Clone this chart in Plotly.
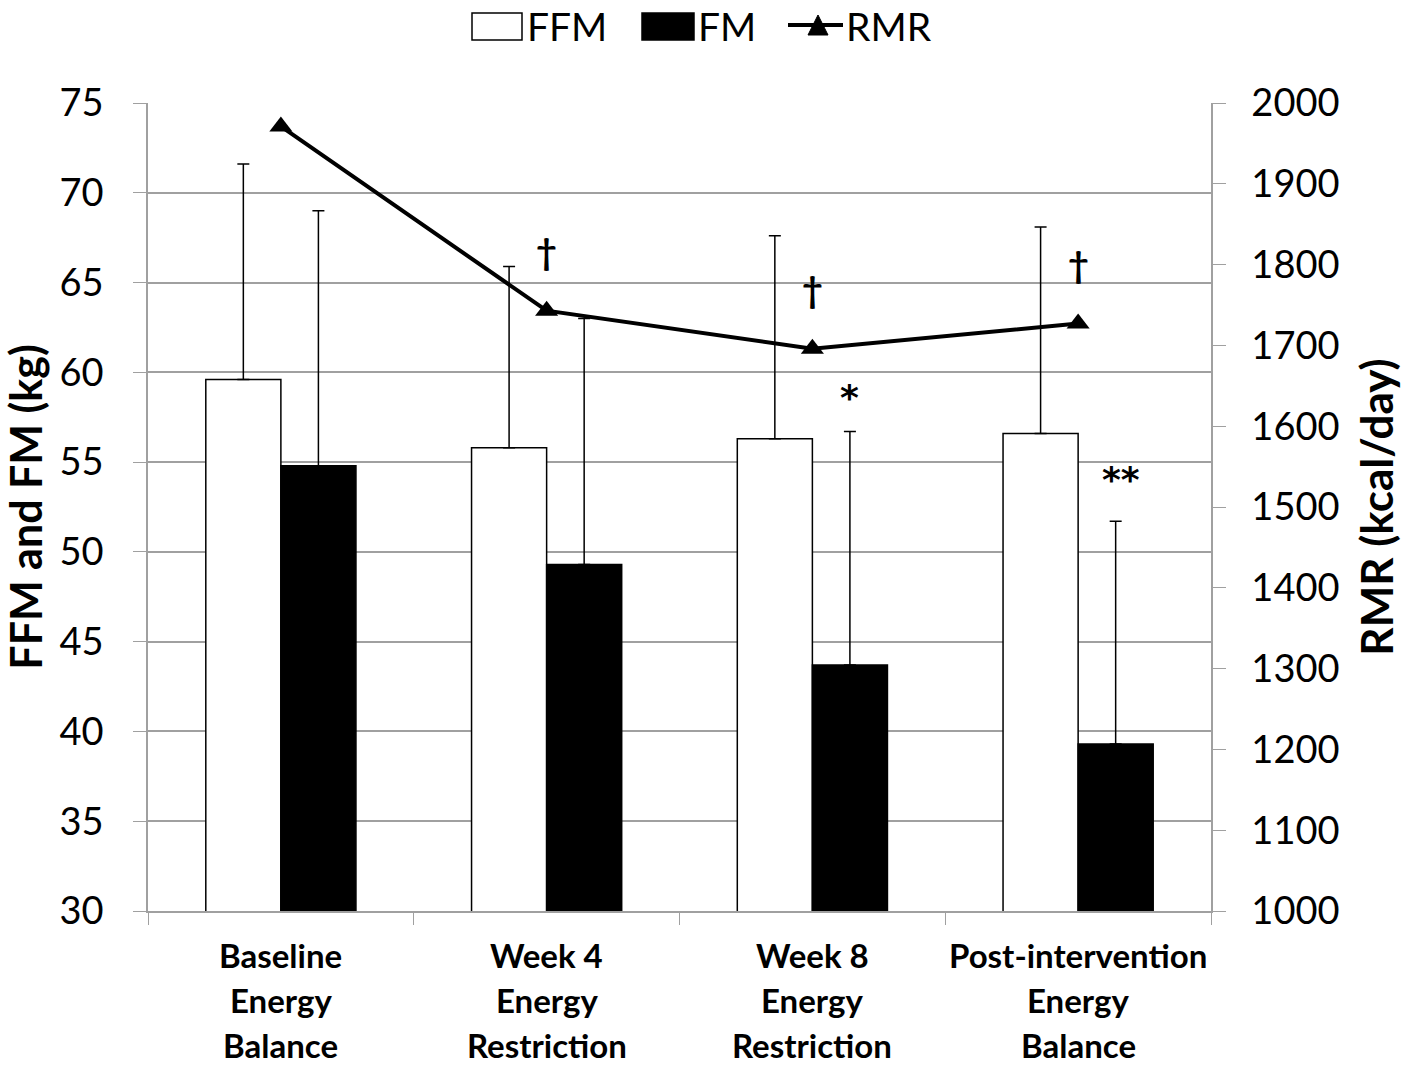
import plotly.graph_objects as go

categories = ["Baseline Energy Balance", "Week 4 Energy Restriction",
              "Week 8 Energy Restriction", "Post-intervention Energy Balance"]
label_lines = [["Baseline", "Energy", "Balance"],
               ["Week 4", "Energy", "Restriction"],
               ["Week 8", "Energy", "Restriction"],
               ["Post-intervention", "Energy", "Balance"]]
ffm = [59.6, 55.8, 56.3, 56.6]
ffm_err = [12.0, 10.1, 11.3, 11.5]
fm = [54.8, 49.3, 43.7, 39.3]
fm_err = [14.2, 13.7, 13.0, 12.4]
rmr = [1971, 1743, 1696, 1727]
rmr_marks = ["", "†", "†", "†"]
fm_marks = ["", "", "*", "**"]

FONT = "Lato"
W, H = 1402, 1066
L, R, T, B = 148, 191, 103, 155
PW, PH = W - L - R, H - T - B


def px(xp):
    return (xp - L) / PW


def py(yp):
    return (H - B - yp) / PH


fig = go.Figure()
fig.add_trace(go.Bar(
    x=categories, y=ffm, name="FFM", showlegend=False,
    marker=dict(color="white", line=dict(color="black", width=1.5)),
    error_y=dict(type="data", symmetric=False, array=ffm_err,
                 arrayminus=[0] * 4, color="black", thickness=1.5, width=6),
))
fig.add_trace(go.Bar(
    x=categories, y=fm, name="FM", showlegend=False,
    marker=dict(color="black", line=dict(color="black", width=1.5)),
    error_y=dict(type="data", symmetric=False, array=fm_err,
                 arrayminus=[0] * 4, color="black", thickness=1.5, width=6),
))
fig.add_trace(go.Scatter(
    x=categories, y=rmr, name="RMR", yaxis="y2", mode="lines+markers",
    showlegend=False,
    line=dict(color="black", width=4),
    marker=dict(symbol="triangle-up", size=20, color="black"),
))

annotations = []
for i, lines in enumerate(label_lines):
    for j, t in enumerate(lines):
        annotations.append(dict(
            x=categories[i], xref="x", y=0, yref="paper", yanchor="middle",
            yshift=-44 - 45 * j, text=t, showarrow=False,
            font=dict(family=FONT, size=33, color="black", weight="bold")))
for i, m in enumerate(rmr_marks):
    if m:
        annotations.append(dict(
            x=i, xref="x", y=rmr[i], yref="y2", yshift=60, text=m,
            showarrow=False,
            font=dict(family=FONT, size=36, color="black", weight="bold")))
for i, m in enumerate(fm_marks):
    if m:
        annotations.append(dict(
            x=i + 0.14 + 0.02 * (len(m) - 1), xref="x",
            y=fm[i] + fm_err[i], yref="y",
            yshift=34 + 8 * (len(m) - 1), text=m, showarrow=False,
            font=dict(family="DejaVu Sans", size=36, color="black",
                      weight="bold")))

# custom legend
shapes = [
    dict(type="rect", xref="paper", yref="paper", x0=px(472), x1=px(522),
         y0=py(40), y1=py(13), fillcolor="white",
         line=dict(color="black", width=1.5)),
    dict(type="rect", xref="paper", yref="paper", x0=px(642), x1=px(694),
         y0=py(40), y1=py(13), fillcolor="black",
         line=dict(color="black", width=1.5)),
    dict(type="line", xref="paper", yref="paper", x0=px(788), x1=px(843),
         y0=py(25), y1=py(25), line=dict(color="black", width=4)),
    dict(type="path", xref="paper", yref="paper",
         path=f"M {px(808)} {py(35)} L {px(828)} {py(35)} L {px(818)} {py(15)} Z",
         fillcolor="black", line=dict(color="black", width=1)),
]
for txt, xl in [("FFM", 525), ("FM", 696), ("RMR", 844)]:
    annotations.append(dict(
        x=px(xl), xref="paper", xanchor="left", y=py(26), yref="paper",
        yanchor="middle", text=txt, showarrow=False,
        font=dict(family=FONT, size=39, color="black")))

fig.update_layout(
    width=W, height=H,
    margin=dict(l=L, r=R, t=T, b=B, autoexpand=False),
    paper_bgcolor="white", plot_bgcolor="white",
    barmode="group", bargap=0.435, bargroupgap=0,
    font=dict(family=FONT, size=37, color="black"),
    showlegend=False,
    xaxis=dict(showticklabels=False, ticks="outside", tickson="boundaries",
               ticklen=12, tickcolor="#a0a0a0", showline=True,
               linecolor="#a0a0a0", linewidth=1.5, showgrid=False,
               automargin=False),
    yaxis=dict(range=[30, 75], dtick=5, ticks="outside", ticklen=13,
               tickcolor="#a0a0a0", showline=True, linecolor="#a0a0a0",
               linewidth=1.5, showgrid=True, gridcolor="#a0a0a0",
               gridwidth=1.5, zeroline=False, ticklabelstandoff=22,
               automargin=False,
               tickfont=dict(family=FONT, size=38),
               title=dict(text="<b>FFM and FM (kg)</b>",
                          font=dict(family=FONT, size=43), standoff=10)),
    yaxis2=dict(range=[1000, 2000], dtick=100, overlaying="y", side="right",
                ticks="outside", ticklen=13, tickcolor="#a0a0a0",
                showline=True, linecolor="#a0a0a0", linewidth=1.5,
                showgrid=False, zeroline=False, ticklabelstandoff=18,
                automargin=False,
                tickfont=dict(family=FONT, size=38),
                title=dict(text="<b>RMR (kcal/day)</b>",
                           font=dict(family=FONT, size=44), standoff=30)),
    shapes=shapes,
    annotations=annotations,
)
fig.write_html("out.html", config={"displayModeBar": False},
               post_script="document.body.style.margin='0';"
                           "document.body.style.overflow='hidden';")
